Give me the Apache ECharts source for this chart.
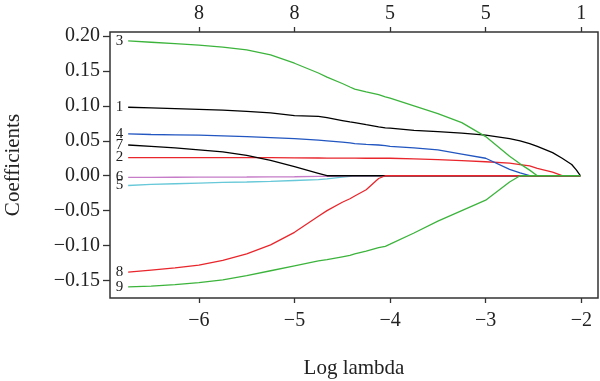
<!DOCTYPE html>
<html>
<head>
<meta charset="utf-8">
<script src="https://cdn.jsdelivr.net/npm/echarts@6/dist/echarts.min.js"></script>
<style>html,body{margin:0;padding:0;background:#fff}#c{width:600px;height:381px}</style>
</head>
<body>
<div id="c"></div>
<script>
// Log lambda grid (shared by all coefficient paths)
const logLambda = [-6.74,-6.5,-6.25,-6,-5.75,-5.5,-5.25,-5,-4.75,-4.66,-4.5,-4.42,-4.37,-4.25,-4.12,-4.05,-4,-3.75,-3.5,-3.25,-3,-2.75,-2.64,-2.54,-2.46,-2.3,-2.2,-2.1,-2.05,-2.01];
const coef1 = [0.098,0.097,0.096,0.095,0.094,0.092,0.090,0.086,0.085,0.083,0.079,0.077,0.076,0.073,0.070,0.0685,0.068,0.065,0.063,0.061,0.058,0.053,0.050,0.046,0.042,0.033,0.025,0.016,0.008,0];
const coef2 = [0.026,0.026,0.026,0.026,0.026,0.026,0.0258,0.0255,0.0254,0.0253,0.0252,0.0251,0.0251,0.025,0.025,0.025,0.025,0.024,0.023,0.0215,0.020,0.018,0.016,0.014,0.0105,0.005,0,0,0,0];
const coef3 = [0.193,0.191,0.189,0.187,0.184,0.180,0.173,0.161,0.147,0.141,0.132,0.127,0.124,0.120,0.116,0.113,0.111,0.100,0.089,0.076,0.056,0.028,0.017,0.008,0,0,0,0,0,0];
const coef4 = [0.060,0.059,0.0585,0.058,0.057,0.056,0.0545,0.053,0.051,0.050,0.048,0.047,0.046,0.045,0.044,0.043,0.042,0.040,0.037,0.031,0.025,0.009,0.004,0,0,0,0,0,0,0];
const coef5 = [-0.014,-0.0125,-0.0115,-0.0105,-0.0095,-0.009,-0.008,-0.0068,-0.0055,-0.0045,-0.002,-0.0008,0,0,0,0,0,0,0,0,0,0,0,0,0,0,0,0,0,0];
const coef6 = [-0.0025,-0.0024,-0.0022,-0.002,-0.0019,-0.0018,-0.0016,-0.0015,-0.001,-0.0008,-0.0005,0,0,0,0,0,0,0,0,0,0,0,0,0,0,0,0,0,0,0];
const coef7 = [0.044,0.042,0.040,0.037,0.034,0.029,0.022,0.013,0.0035,0,0,0,0,0,0,0,0,0,0,0,0,0,0,0,0,0,0,0,0,0];
const coef8 = [-0.138,-0.135,-0.132,-0.128,-0.121,-0.112,-0.099,-0.081,-0.058,-0.050,-0.038,-0.033,-0.029,-0.020,-0.004,0,0,0,0,0,0,0,0,0,0,0,0,0,0,0];
const coef9 = [-0.159,-0.158,-0.156,-0.153,-0.149,-0.143,-0.136,-0.129,-0.122,-0.120,-0.116,-0.114,-0.112,-0.108,-0.103,-0.101,-0.098,-0.082,-0.065,-0.050,-0.035,-0.009,0,0,0,0,0,0,0,0];
const seriesNames = ['1','2','3','4','5','6','7','8','9'];
const xTicks = [-6,-5,-4,-3,-2];
const topLabels = ['8','8','5','5','1'];
const yTicks = [-0.15,-0.10,-0.05,0,0.05,0.10,0.15,0.20];

const coefs = [coef1,coef2,coef3,coef4,coef5,coef6,coef7,coef8,coef9];
const colors = ['#000000','#e8262c','#3cb43c','#2256c0','#66c8d8','#c67cc8','#000000','#e8262c','#3cb43c'];
const FONT = '"Liberation Serif", "DejaVu Serif", serif';
const minus = v => (v < 0 ? '\u2212' : '') + Math.abs(v);

const chart = echarts.init(document.getElementById('c'), null, {renderer: 'canvas'});
const series = coefs.map((arr, k) => ({
  type: 'line',
  name: seriesNames[k],
  showSymbol: true,
  showAllSymbol: true,
  symbol: 'none',
  smooth: false,
  animation: false,
  silent: true,
  clip: false,
  xAxisIndex: 0,
  lineStyle: {color: colors[k], width: 1.3},
  itemStyle: {color: colors[k]},
  data: logLambda.map((x, i) => i === 0 ? {
    value: [x, arr[i]],
    symbol: 'circle', symbolSize: 0,
    label: {show: true, position: 'left', distance: 5, formatter: seriesNames[k],
            fontFamily: FONT, fontSize: 15, color: '#222'}
  } : [x, arr[i]])
}));

const commonX = {
  type: 'value', min: -6.93, max: -1.825,
  axisLine: {show: false, onZero: false}, splitLine: {show: false},
  axisTick: {show: true, customValues: xTicks, length: 5, lineStyle: {color: '#333', width: 1.3}},
};

chart.setOption({
  animation: false,
  backgroundColor: '#fff',
  grid: {left: 110, right: 2, top: 32, bottom: 83, outerBoundsMode: 'none', containLabel: false,
         show: true, borderColor: '#333', borderWidth: 1.5, backgroundColor: 'transparent'},
  xAxis: [
    Object.assign({}, commonX, {
      position: 'bottom',
      axisLabel: {customValues: xTicks, formatter: v => minus(v), fontFamily: FONT, fontSize: 20, color: '#222', margin: 13},
      name: 'Log lambda', nameLocation: 'middle', nameGap: 60,
      nameTextStyle: {fontFamily: FONT, fontSize: 21, color: '#222'}
    }),
    Object.assign({}, commonX, {
      position: 'top',
      axisLabel: {customValues: xTicks, formatter: v => topLabels[xTicks.findIndex(t => Math.abs(t - v) < 1e-6)],
                  fontFamily: FONT, fontSize: 20, color: '#222', margin: 8}
    })
  ],
  yAxis: {
    type: 'value', min: -0.175, max: 0.2057,
    axisLine: {show: false, onZero: false}, splitLine: {show: false},
    axisTick: {show: true, customValues: yTicks, length: 7, lineStyle: {color: '#333', width: 1.3}},
    axisLabel: {customValues: yTicks, formatter: v => (v < 0 ? '\u2212' : '') + Math.abs(v).toFixed(2),
                fontFamily: FONT, fontSize: 20, color: '#222', margin: 10},
    name: 'Coefficients', nameLocation: 'middle', nameGap: 86, nameRotate: 90,
    nameTextStyle: {fontFamily: FONT, fontSize: 21, color: '#222'}
  },
  series: series
});
</script>
</body>
</html>
